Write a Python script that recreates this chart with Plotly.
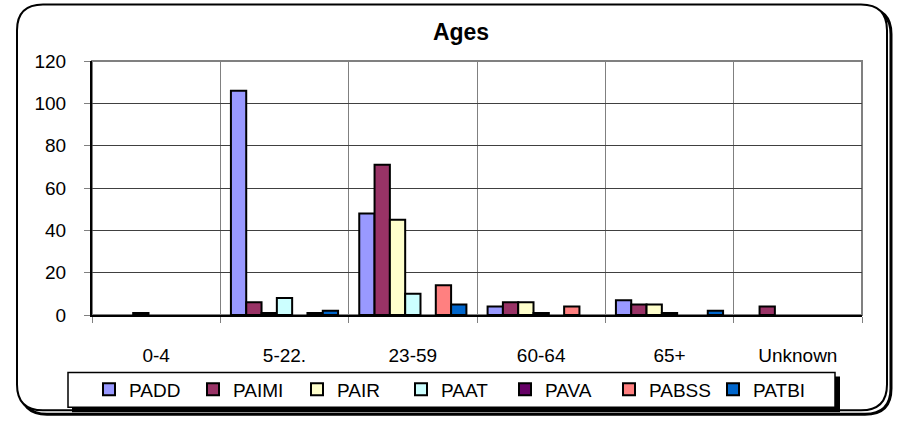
import plotly.graph_objects as go

# -------------------------------------------------------
# Data
# -------------------------------------------------------
categories = ["0-4", "5-22.", "23-59", "60-64", "65+", "Unknown"]

PADD  = [0, 106, 48, 4, 7, 0]
PAIMI = [0, 6, 71, 6, 5, 4]
PAIR  = [1, 1, 45, 6, 5, 0]
PAAT  = [0, 8, 10, 1, 1, 0]
PAVA  = [0, 0, 0, 0, 0, 0]
PABSS = [0, 1, 14, 4, 0, 0]
PATBI = [0, 2, 5, 0, 2, 0]

series_names = ["PADD", "PAIMI", "PAIR", "PAAT", "PAVA", "PABSS", "PATBI"]
series_values = [PADD, PAIMI, PAIR, PAAT, PAVA, PABSS, PATBI]

COLORS = ["#9999FF", "#993366", "#FFFFCC", "#CCFFFF", "#660066", "#FF8080", "#0066CC"]

FONT = "Liberation Sans, Arial, sans-serif"

# -------------------------------------------------------
# Geometry (pixels)
# -------------------------------------------------------
W, H = 902, 421
ML, MR, MT, MB = 92, 40, 61, 104
PW = W - ML - MR
PH = H - MT - MB


def px(x):
    return (x - ML) / PW


def py(y):
    return (H - MB - y) / PH


def rounded_path(x0, y0, x1, y1, r):
    pts = [
        ("M", [(x0 + r, y0)]),
        ("L", [(x1 - r, y0)]),
        ("Q", [(x1, y0), (x1, y0 + r)]),
        ("L", [(x1, y1 - r)]),
        ("Q", [(x1, y1), (x1 - r, y1)]),
        ("L", [(x0 + r, y1)]),
        ("Q", [(x0, y1), (x0, y1 - r)]),
        ("L", [(x0, y0 + r)]),
        ("Q", [(x0, y0), (x0 + r, y0)]),
    ]
    out = ""
    for cmd, coords in pts:
        out += cmd + " ".join(f"{px(a):.5f},{py(b):.5f}" for a, b in coords) + " "
    return out + "Z"


def rect(x0, y0, x1, y1, **kw):
    return dict(type="rect", xref="paper", yref="paper",
                x0=px(x0), x1=px(x1), y0=py(y1), y1=py(y0), layer="below", **kw)


# -------------------------------------------------------
# Figure
# -------------------------------------------------------
fig = go.Figure()

for name, vals, col in zip(series_names, series_values, COLORS):
    fig.add_trace(go.Bar(
        x=categories,
        y=[v if v else None for v in vals],   # empty slots, like Excel
        name=name,
        marker=dict(color=col, line=dict(color="black", width=2)),
    ))

shapes = [
    # outer chart border with shadow
    dict(type="path", xref="paper", yref="paper", layer="below",
         path=rounded_path(21, 8, 891, 417, 26), line=dict(color="black", width=3)),
    dict(type="path", xref="paper", yref="paper", layer="below",
         path=rounded_path(17, 4, 887, 413, 26), line=dict(color="black", width=2),
         fillcolor="white"),
    # plot area border
    dict(type="rect", xref="paper", yref="paper", layer="below",
         x0=0, x1=1, y0=0, y1=1, line=dict(color="#808080", width=2)),
    # legend box with shadow
    rect(72, 379, 840, 415, fillcolor="black", line=dict(width=0)),
    rect(68, 375, 835, 410, fillcolor="white", line=dict(color="black", width=1.5)),
]

fig.update_layout(
    width=W, height=H,
    margin=dict(l=ML, r=MR, t=MT, b=MB),
    paper_bgcolor="white",
    plot_bgcolor="rgba(0,0,0,0)",
    font=dict(family=FONT, size=19, color="black"),
    title=dict(text="<b>Ages</b>", x=461 / W, xanchor="center",
               y=1 - 32 / H, yanchor="middle", yref="container",
               font=dict(family=FONT, size=23, color="black")),
    barmode="group",
    bargap=0.165,
    bargroupgap=0,
    showlegend=True,
    legend=dict(orientation="h", x=px(89), xanchor="left",
                y=py(392), yanchor="middle",
                bgcolor="rgba(0,0,0,0)", borderwidth=0,
                font=dict(family=FONT, size=19), itemwidth=30,
                entrywidth=59, entrywidthmode="pixels",
                traceorder="normal"),
    shapes=shapes,
)

fig.update_xaxes(
    type="category",
    tickson="boundaries",
    showgrid=True, gridcolor="#808080", gridwidth=1,
    showline=True, linecolor="black", linewidth=2,
    ticks="outside", ticklen=6, tickcolor="#808080", tickwidth=1,
    ticklabelstandoff=22,
    tickfont=dict(family=FONT, size=19),
)

fig.update_yaxes(
    range=[0, 120], dtick=20,
    showgrid=True, gridcolor="#404040", gridwidth=1,
    zeroline=False,
    showline=True, linecolor="black", linewidth=2,
    ticks="outside", ticklen=6, tickcolor="#808080", tickwidth=1,
    ticklabelstandoff=14,
    tickfont=dict(family=FONT, size=19),
)

fig.write_html("out.html", config={"displayModeBar": False},
               post_script="document.body.style.margin='0';document.body.style.overflow='hidden';")
